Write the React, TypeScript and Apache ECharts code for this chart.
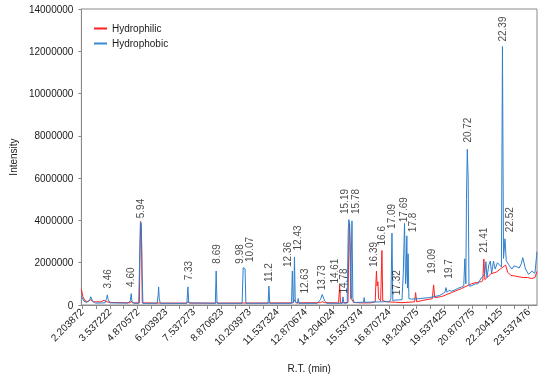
import React, { useEffect, useRef } from "react";
import * as echarts from "echarts";

const xTickLabels = ["2.203872", "3.537222", "4.870572", "6.203923", "7.537273", "8.870623", "10.203973", "11.537324", "12.870674", "14.204024", "15.537374", "16.870724", "18.204075", "19.537425", "20.870775", "22.204125", "23.537476"];

const seriesNames = ["Hydrophilic", "Hydrophobic"];

const hydrophilicRT = [2.18, 2.25, 2.35, 2.5, 2.62, 2.75, 3.1, 3.26, 3.35, 3.6, 4.5, 4.56, 4.62, 4.95, 4.98, 5.01, 5.05, 5.09, 6.0, 7.22, 7.27, 7.35, 8.6, 8.63, 8.7, 12.3, 12.35, 12.45, 13.6, 13.69, 13.8, 14.47, 14.52, 14.56, 14.92, 14.96, 14.99, 15.03, 15.08, 15.18, 15.5, 16.0, 16.22, 16.25, 16.28, 16.31, 16.35, 16.38, 16.48, 16.54, 16.58, 16.8, 17.2, 17.5, 18.1, 18.15, 18.2, 18.46, 18.95, 19.01, 19.06, 19.4, 19.87, 20.34, 20.81, 21.04, 21.28, 21.36, 21.41, 21.46, 21.75, 22.0, 22.22, 22.45, 22.55, 22.7, 22.85, 23.1, 23.3, 23.5, 23.7, 23.85, 23.95];
const hydrophilicInt = [750000, 400000, 200000, 160000, 250000, 150000, 150000, 220000, 160000, 120000, 100000, 180000, 100000, 100000, 2500000, 3950000, 3500000, 100000, 90000, 90000, 160000, 90000, 90000, 130000, 90000, 100000, 250000, 100000, 110000, 160000, 110000, 100000, 932000, 100000, 120000, 3000000, 3835000, 2500000, 300000, 120000, 100000, 100000, 150000, 1000000, 1610000, 900000, 1100000, 300000, 200000, 2579000, 200000, 150000, 130000, 110000, 150000, 588000, 150000, 212000, 300000, 950000, 350000, 400000, 588000, 776000, 1000000, 1060000, 1100000, 1150000, 2174000, 1200000, 1480000, 1550000, 1720000, 1890000, 1550000, 1400000, 1380000, 1330000, 1300000, 1300000, 1250000, 1300000, 1580000];

const hydrophobicRT = [2.18, 2.3, 2.45, 2.58, 2.63, 2.7, 2.85, 3.3, 3.38, 3.42, 3.46, 3.55, 4.4, 4.52, 4.56, 4.6, 4.7, 4.92, 4.96, 5.0, 5.04, 5.08, 5.12, 5.8, 5.85, 5.87, 5.9, 5.95, 7.22, 7.27, 7.31, 8.58, 8.62, 8.66, 9.86, 9.91, 9.96, 10.0, 10.04, 11.1, 11.14, 11.18, 12.22, 12.26, 12.3, 12.33, 12.36, 12.4, 12.5, 12.54, 12.58, 13.45, 13.6, 13.69, 13.8, 13.9, 14.64, 14.68, 14.72, 14.88, 14.93, 14.96, 15.0, 15.05, 15.08, 15.11, 15.15, 15.22, 15.66, 15.69, 15.72, 16.9, 16.97, 17.02, 17.06, 17.15, 17.5, 17.56, 17.62, 17.67, 17.7, 17.73, 17.76, 17.79, 17.83, 17.95, 18.3, 18.8, 19.3, 19.55, 19.6, 19.65, 19.75, 19.85, 20.0, 20.2, 20.35, 20.45, 20.5, 20.55, 20.58, 20.62, 20.66, 20.7, 20.8, 21.0, 21.12, 21.3, 21.36, 21.45, 21.51, 21.56, 21.65, 21.72, 21.78, 21.83, 21.87, 21.95, 22.06, 22.15, 22.25, 22.3, 22.35, 22.42, 22.48, 22.6, 22.75, 22.85, 23.0, 23.1, 23.2, 23.27, 23.4, 23.55, 23.7, 23.85, 23.95];
const hydrophobicInt = [420000, 180000, 120000, 250000, 390000, 200000, 90000, 100000, 300000, 480000, 250000, 100000, 90000, 200000, 540000, 150000, 80000, 80000, 2000000, 3930000, 3850000, 1500000, 80000, 80000, 500000, 856000, 300000, 80000, 80000, 856000, 100000, 80000, 1610000, 80000, 80000, 1765000, 1740000, 1718000, 80000, 80000, 894000, 80000, 80000, 1610000, 100000, 200000, 2273000, 150000, 90000, 306000, 80000, 80000, 250000, 494000, 200000, 80000, 80000, 386000, 90000, 90000, 3500000, 4038000, 3800000, 300000, 2500000, 3977000, 300000, 120000, 130000, 350000, 130000, 160000, 300000, 3398000, 200000, 230000, 250000, 1500000, 3859000, 1000000, 1500000, 3270000, 800000, 2424000, 300000, 280000, 300000, 350000, 450000, 600000, 824000, 600000, 700000, 650000, 700000, 800000, 850000, 900000, 2188000, 1000000, 5000000, 7365000, 6000000, 900000, 900000, 1000000, 1000000, 1300000, 1350000, 1450000, 2050000, 1300000, 1900000, 2080000, 1500000, 1800000, 2080000, 1700000, 2000000, 1900000, 1800000, 12226000, 2200000, 3130000, 2100000, 1900000, 1700000, 1850000, 1800000, 1750000, 1950000, 2240000, 1700000, 1450000, 1600000, 1500000, 2520000];

const peakLabels = ["3.46", "4.60", "5.94", "7.33", "8.69", "9.98", "10.07", "11.2", "12.36", "12.43", "12.63", "13.73", "14.61", "14.78", "15.19", "15.78", "16.39", "16.6", "17.09", "17.32", "17.69", "17.8", "19.09", "19.7", "20.72", "21.41", "22.39", "22.52"];
const peakLabelRT = [3.41, 4.54, 5.0, 7.28, 8.62, 9.74, 10.22, 11.13, 12.05, 12.52, 12.83, 13.66, 14.27, 14.71, 14.76, 15.26, 16.12, 16.53, 17.01, 17.26, 17.59, 17.99, 18.93, 19.72, 20.62, 21.41, 22.3, 22.65];
const peakLabelInt = [776000, 856000, 4104000, 1167000, 1953000, 1953000, 2033000, 1092000, 1798000, 2579000, 541000, 696000, 1012000, 541000, 4306000, 4306000, 1798000, 2814000, 3600000, 461000, 3915000, 3445000, 1482000, 1247000, 7680000, 2471000, 12461000, 3445000];

const FONT = "'Liberation Sans', Arial, sans-serif";

export default function App() {
  const ref = useRef<HTMLDivElement>(null);
  useEffect(() => {
    if (!ref.current) return;
    const chart = echarts.init(ref.current, null, { renderer: "svg" });
    const tickVals = xTickLabels.map(Number);
    const minorTicks: number[] = [];
    for (let i = 0; i < tickVals.length - 1; i++) {
      minorTicks.push(tickVals[i], (tickVals[i] + tickVals[i + 1]) / 2);
    }
    minorTicks.push(tickVals[tickVals.length - 1]);
    const axisColor = "#8a8a8a";
    chart.setOption({
      animation: false,
      textStyle: { fontFamily: FONT },
      grid: { left: 73, right: 8, top: 9, bottom: 71.5, show: true, borderColor: axisColor, borderWidth: 1 },
      legend: {
        data: seriesNames,
        orient: "vertical",
        left: 94,
        top: 23,
        itemWidth: 13,
        itemHeight: 2,
        itemGap: 4,
        padding: 0,
        icon: "rect",
        textStyle: { fontSize: 10, color: "#1a1a1a", fontFamily: FONT, lineHeight: 11 },
      },
      xAxis: {
        type: "value",
        min: 2.18,
        max: 23.95,
        name: "R.T. (min)",
        nameLocation: "middle",
        nameGap: 58,
        nameTextStyle: { fontSize: 10, color: "#1a1a1a", fontFamily: FONT },
        axisLine: { show: true, lineStyle: { color: axisColor } },
        axisTick: { show: true, length: 4, lineStyle: { color: axisColor }, customValues: minorTicks },
        axisLabel: {
          customValues: tickVals,
          rotate: 45,
          fontSize: 10,
          color: "#1a1a1a",
          fontFamily: FONT,
          margin: 5,
          formatter: (v: number) => {
            let best = 0;
            for (let i = 0; i < tickVals.length; i++) if (Math.abs(tickVals[i] - v) < Math.abs(tickVals[best] - v)) best = i;
            return xTickLabels[best];
          },
        },
        splitLine: { show: false },
      },
      yAxis: {
        type: "value",
        min: 0,
        max: 14000000,
        interval: 2000000,
        name: "Intensity",
        nameLocation: "middle",
        nameGap: 61,
        nameRotate: 90,
        nameTextStyle: { fontSize: 10, color: "#1a1a1a", fontFamily: FONT },
        axisLine: { show: true, lineStyle: { color: axisColor } },
        axisTick: { show: true, length: 3, lineStyle: { color: axisColor } },
        axisLabel: { fontSize: 10, color: "#1a1a1a", fontFamily: FONT, margin: 8, formatter: (v: number) => String(v) },
        splitLine: { show: false },
      },
      series: [
        {
          name: seriesNames[0],
          type: "line",
          data: hydrophilicRT.map((t, i) => [t, hydrophilicInt[i]]),
          showSymbol: false,
          color: "#ff1f1f",
          lineStyle: { width: 1, color: "#ff1f1f" },
          silent: true,
          z: 2,
        },
        {
          name: seriesNames[1],
          type: "line",
          data: hydrophobicRT.map((t, i) => [t, hydrophobicInt[i]]),
          showSymbol: false,
          color: "#3a8ad2",
          lineStyle: { width: 1, color: "#2f7fcc" },
          silent: true,
          z: 3,
        },
        {
          name: "labels",
          type: "scatter",
          symbolSize: 0,
          silent: true,
          z: 4,
          data: peakLabels.map((s, i) => ({ name: s, value: [peakLabelRT[i], peakLabelInt[i]] })),
          label: {
            show: true,
            formatter: "{b}",
            position: "top",
            distance: 0,
            rotate: 90,
            align: "left",
            verticalAlign: "middle",
            fontSize: 10,
            color: "#1a1a1a",
            fontFamily: FONT,
          },
        },
      ],
    });
    return () => chart.dispose();
  }, []);
  return <div ref={ref} style={{ position: "fixed", left: 0, top: 0, width: 545, height: 378 }} />;
}
